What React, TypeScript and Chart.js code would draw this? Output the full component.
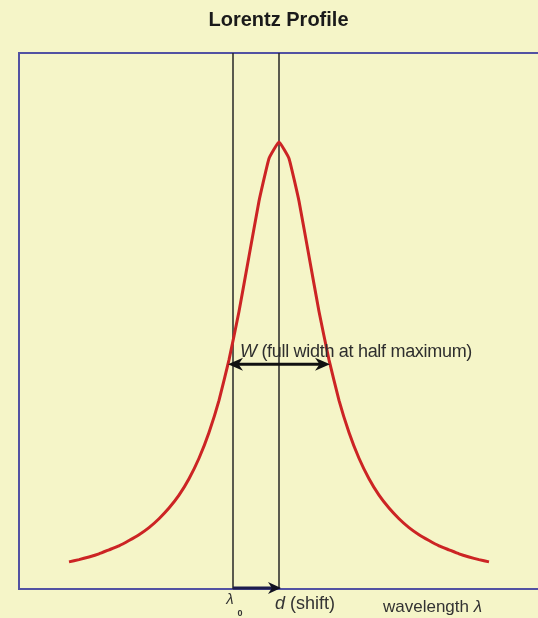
import React, { useEffect, useRef } from "react";
import { Chart, registerables } from "chart.js";

Chart.register(...registerables);

// ---- data ----
const titleText = "Lorentz Profile";
const wavelengths = [
  -16.4, -15.4, -14.4, -13.4, -12.4, -11.4, -10.4, -9.4, -8.4, -7.4, -6.4,
  -5.4, -4.4, -3.4, -2.4, -1.4, -0.4, 0.6, 1.6, 2.6, 3.6, 4.6, 5.6, 6.6, 7.6,
  8.6, 9.6, 10.6, 11.6, 12.6, 13.6, 14.6, 15.6, 16.6, 17.6, 18.6, 19.6, 20.6,
  21.6, 22.6, 23.6, 24.6, 25.6,
];
const intensities = [
  0.056, 0.061, 0.067, 0.074, 0.083, 0.092, 0.104, 0.117, 0.133, 0.153, 0.177,
  0.206, 0.243, 0.289, 0.347, 0.419, 0.51, 0.619, 0.743, 0.867, 0.963, 1.0,
  0.963, 0.867, 0.743, 0.619, 0.51, 0.419, 0.347, 0.289, 0.243, 0.206, 0.177,
  0.153, 0.133, 0.117, 0.104, 0.092, 0.083, 0.074, 0.067, 0.061, 0.056,
];
const lambda0 = 0;
const shift = 4.6;
const halfWidth = 5.1;
const halfMax = 0.5;
const xRange = [-21.4, 30.5];
const yRange = [-0.005, 1.2];

const widthLabel = ["W", " (full width at half maximum)"];
const widthLabelX = 0.7;
const shiftLabel = ["d", " (shift)"];
const shiftLabelX = 4.2;
const lambdaLabel = ["λ", "0"];
const lambdaLabelX = -0.3;
const axisLabel = ["wavelength ", "λ"];
const axisLabelX = 15.0;

// ---- styles ----
const BG = "#f5f5c8";
const BLUE = "#5252a2";
const RED = "#cc2424";
const FONT = '"Liberation Sans", Arial, Helvetica, sans-serif';

function arrowHead(
  ctx: CanvasRenderingContext2D,
  x: number,
  y: number,
  dir: number,
  len: number,
  half: number
) {
  ctx.beginPath();
  ctx.moveTo(x, y);
  ctx.lineTo(x - dir * len, y - half);
  ctx.lineTo(x - dir * len * 0.7, y);
  ctx.lineTo(x - dir * len, y + half);
  ctx.closePath();
  ctx.fill();
}

function drawMixed(
  ctx: CanvasRenderingContext2D,
  parts: string[],
  fonts: string[],
  x: number,
  y: number
) {
  let cx = x;
  parts.forEach((p, i) => {
    ctx.font = fonts[i];
    ctx.fillText(p, cx, y);
    cx += ctx.measureText(p).width;
  });
}

const linesPlugin = {
  id: "markerLines",
  beforeDatasetsDraw(chart: any) {
    const { ctx, chartArea } = chart;
    const xs = chart.scales.x;
    ctx.save();
    ctx.strokeStyle = "#262626";
    ctx.lineWidth = 1.5;
    [lambda0, lambda0 + shift].forEach((v) => {
      const px = xs.getPixelForValue(v);
      ctx.beginPath();
      ctx.moveTo(px, chartArea.top);
      ctx.lineTo(px, chartArea.bottom);
      ctx.stroke();
    });
    ctx.restore();
  },
};

const annotationsPlugin = {
  id: "lorentzAnnotations",
  afterDatasetsDraw(chart: any) {
    const { ctx, chartArea } = chart;
    const xs = chart.scales.x;
    const ys = chart.scales.y;
    ctx.save();

    // FWHM double arrow
    const center = lambda0 + shift;
    const yHalf = ys.getPixelForValue(halfMax);
    const xL = xs.getPixelForValue(center - halfWidth);
    const xR = xs.getPixelForValue(center + halfWidth);
    ctx.strokeStyle = "#111111";
    ctx.fillStyle = "#111111";
    ctx.lineWidth = 3;
    ctx.beginPath();
    ctx.moveTo(xL + 6, yHalf);
    ctx.lineTo(xR - 6, yHalf);
    ctx.stroke();
    arrowHead(ctx, xL, yHalf, -1, 15, 6.5);
    arrowHead(ctx, xR, yHalf, 1, 15, 6.5);

    // W label
    ctx.fillStyle = "#2e2e2e";
    ctx.textBaseline = "alphabetic";
    ctx.textAlign = "left";
    (ctx as any).letterSpacing = "-0.3px";
    drawMixed(
      ctx,
      widthLabel,
      [`italic 18px ${FONT}`, `18px ${FONT}`],
      xs.getPixelForValue(widthLabelX),
      yHalf - 7
    );
    (ctx as any).letterSpacing = "0px";

    // shift arrow on the axis
    const xa = xs.getPixelForValue(lambda0);
    const xb = xs.getPixelForValue(lambda0 + shift);
    const yb = chartArea.bottom - 1;
    ctx.strokeStyle = "#1c1c4c";
    ctx.fillStyle = "#111122";
    ctx.lineWidth = 3;
    ctx.beginPath();
    ctx.moveTo(xa, yb);
    ctx.lineTo(xb - 5, yb);
    ctx.stroke();
    arrowHead(ctx, xb + 2, yb, 1, 13, 6);

    // labels below the axis
    ctx.fillStyle = "#333333";
    ctx.textAlign = "center";
    ctx.font = `italic 15px ${FONT}`;
    ctx.fillText(lambdaLabel[0], xs.getPixelForValue(lambdaLabelX), chartArea.bottom + 15);
    ctx.font = `bold 9px ${FONT}`;
    ctx.fillText(lambdaLabel[1], xs.getPixelForValue(lambdaLabelX) + 10, chartArea.bottom + 27);
    ctx.textAlign = "left";
    drawMixed(
      ctx,
      shiftLabel,
      [`italic 18px ${FONT}`, `18px ${FONT}`],
      xs.getPixelForValue(shiftLabelX),
      chartArea.bottom + 20
    );
    drawMixed(
      ctx,
      axisLabel,
      [`17px ${FONT}`, `italic 17px ${FONT}`],
      xs.getPixelForValue(axisLabelX),
      chartArea.bottom + 23
    );
    ctx.restore();
  },
};

const hiddenAxis = {
  ticks: { display: false },
  grid: { display: false, drawTicks: false },
  border: { display: true, color: BLUE, width: 2 },
};

export default function App() {
  const ref = useRef<HTMLCanvasElement>(null);

  useEffect(() => {
    if (!ref.current) return;
    const chart = new Chart(ref.current, {
      type: "line",
      data: {
        datasets: [
          {
            label: "Lorentz",
            data: wavelengths.map((x, i) => ({ x, y: intensities[i] })),
            borderColor: RED,
            borderWidth: 3,
            pointRadius: 0,
            tension: 0.1,
            fill: false,
          },
        ],
      },
      options: {
        animation: false,
        responsive: false,
        devicePixelRatio: 1,
        layout: { padding: { left: 19, right: 0, top: 0, bottom: 29 } },
        plugins: {
          legend: { display: false },
          tooltip: { enabled: false },
          title: {
            display: true,
            text: titleText,
            color: "#1a1a1a",
            font: { family: FONT, size: 20, weight: "bold", lineHeight: 1.2 },
            padding: { top: 8, bottom: 21 },
          },
        },
        scales: {
          x: { type: "linear", position: "bottom", min: xRange[0], max: xRange[1], ...hiddenAxis },
          x2: { type: "linear", position: "top", min: 0, max: 1, display: true, ...hiddenAxis },
          y: { type: "linear", position: "left", min: yRange[0], max: yRange[1], ...hiddenAxis },
        },
      } as any,
      plugins: [linesPlugin, annotationsPlugin],
    });
    return () => chart.destroy();
  }, []);

  return (
    <div
      style={{
        position: "fixed",
        left: 0,
        top: 0,
        width: 538,
        height: 618,
        background: BG,
        overflow: "hidden",
      }}
    >
      <canvas ref={ref} width={538} height={618} style={{ display: "block", width: 538, height: 618 }} />
    </div>
  );
}
